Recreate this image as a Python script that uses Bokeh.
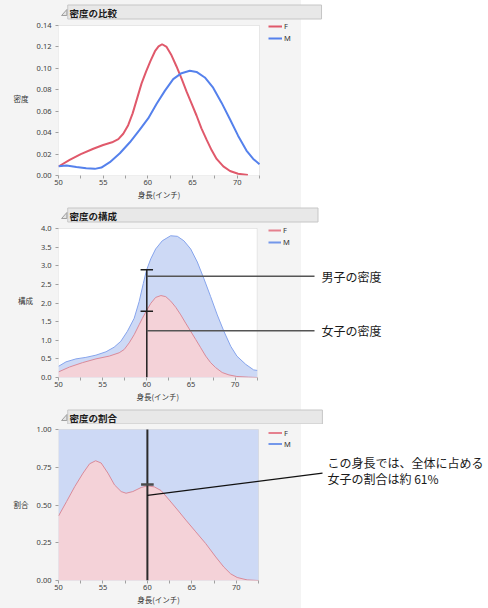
from bokeh.plotting import figure
from bokeh.models import (Range1d, FixedTicker, PrintfTickFormatter, Legend, LegendItem,
                          BoxAnnotation, Label, LinearAxis)
from bokeh.layouts import column
from bokeh.embed import file_html
from bokeh.resources import INLINE

# ---------------- data ----------------
x_ticks = [50, 55, 60, 65, 70]
x_minor = [52.5, 57.5, 62.5, 67.5, 72.5]
x_span = (50, 72.5)

# panel 1: density comparison
dens_f_x = [50, 51.25, 52.5, 53.9, 55, 56, 56.7, 57.25, 57.8, 58.3, 58.8, 59.3, 59.8,
            60.3, 60.8, 61.2, 61.6, 62.1, 62.6, 63.2, 63.8, 64.35, 64.9, 65.45, 66.0,
            66.6, 67.15, 67.7, 68.45, 69.2, 70.1, 71.2]
dens_f_y = [0.0084, 0.0145, 0.020, 0.025, 0.0285, 0.031, 0.034, 0.039, 0.047, 0.058,
            0.072, 0.086, 0.097, 0.107, 0.116, 0.1205, 0.1225, 0.120, 0.113, 0.102,
            0.090, 0.078, 0.067, 0.056, 0.044, 0.033, 0.0235, 0.0155, 0.0085, 0.0042,
            0.0017, 0.0005]
dens_m_x = [50, 50.9, 52.0, 53.1, 54.07, 54.8, 55.75, 56.87, 57.99, 59.1, 60.04, 60.97,
            61.9, 62.84, 63.77, 64.7, 65.45, 66.38, 67.31, 68.25, 69.18, 70.1, 71.04,
            71.8, 72.5]
dens_m_y = [0.0087, 0.0093, 0.0080, 0.0068, 0.0062, 0.0074, 0.0124, 0.0208, 0.031,
            0.0428, 0.0533, 0.0667, 0.079, 0.090, 0.0955, 0.0977, 0.0967, 0.0915,
            0.082, 0.068, 0.0527, 0.0372, 0.0233, 0.0155, 0.0105]
dens_y_ticks = [0.00, 0.02, 0.04, 0.06, 0.08, 0.10, 0.12, 0.14]

# panel 2: density composition
comp_f_x = [50, 51.23, 52.73, 54.24, 55.75, 56.87, 57.44, 58.0, 58.57, 59.13, 59.5,
            59.96, 60.45, 61.0, 61.6, 62.15, 62.71, 63.28, 63.85, 64.4, 64.97, 65.54,
            66.1, 66.67, 67.23, 67.8, 68.54, 69.3, 70.2, 71.5, 72.5]
comp_f_y = [0.15, 0.28, 0.40, 0.50, 0.575, 0.664, 0.752, 0.929, 1.15, 1.416, 1.59,
            1.79, 1.99, 2.15, 2.20, 2.17, 2.05, 1.885, 1.68, 1.46, 1.24, 1.02, 0.80,
            0.575, 0.398, 0.265, 0.133, 0.07, 0.027, 0.01, 0.0]
comp_tot_x = [50, 50.85, 51.98, 53.1, 54.24, 55.37, 56.3, 57.06, 57.8, 58.57, 59.13,
              59.6, 59.96, 60.45, 61.0, 61.75, 62.7, 63.46, 64.2, 64.97, 65.72, 66.47,
              67.23, 67.98, 68.73, 69.5, 70.2, 71.2, 72.1, 72.5]
comp_tot_y = [0.30, 0.42, 0.50, 0.54, 0.60, 0.69, 0.814, 0.973, 1.24, 1.59, 2.035,
              2.52, 2.876, 3.186, 3.45, 3.67, 3.805, 3.79, 3.67, 3.45, 3.10, 2.65,
              2.17, 1.68, 1.24, 0.84, 0.575, 0.354, 0.204, 0.19]
comp_y_ticks = [0.0, 0.5, 1.0, 1.5, 2.0, 2.5, 3.0, 3.5, 4.0]

# panel 3: density ratio (female share)
ratio_f_x = [50, 50.9, 51.83, 52.76, 53.5, 54.18, 54.8, 55.56, 56.3, 57.05, 57.6,
             58.36, 59.3, 60.04, 60.78, 61.53, 62.46, 63.4, 64.33, 65.45, 66.57,
             67.69, 68.6, 69.37, 70.1, 70.86, 71.23, 72.5]
ratio_f_y = [0.427, 0.522, 0.622, 0.711, 0.773, 0.793, 0.778, 0.711, 0.633, 0.589,
             0.578, 0.589, 0.616, 0.627, 0.620, 0.596, 0.533, 0.467, 0.400, 0.322,
             0.244, 0.156, 0.089, 0.044, 0.020, 0.009, 0.004, 0.0]
ratio_y_ticks = [0.00, 0.25, 0.50, 0.75, 1.00]

# cursor at height 60 and its read values
cursor_x = 60
comp_cursor_f = 1.78
comp_cursor_tot = 2.89
comp_note_m_y = 2.72
comp_note_f_y = 1.257
ratio_cursor = 0.635
ratio_note_y = 0.564

titles = ["密度の比較", "密度の構成", "密度の割合"]
y_labels = ["密度", "構成", "割合"]
x_label = "身長(インチ)"
series = ["F", "M"]
note_m = "男子の密度"
note_f = "女子の密度"
note_ratio = ["この身長では、全体に占める", "女子の割合は約 61%"]

# ---------------- style ----------------
RED = "#E0596B"
BLUE = "#5581EC"
F_FILL = "#F4D2D8"
M_FILL = "#CDD9F5"
F_EDGE = "#D98A99"
M_EDGE = "#86A4EC"
LEG_F = "#E5808E"
LEG_M = "#7397EA"
CJK = "Noto Sans CJK JP"
W = 488
BG_STYLE = {"background": "linear-gradient(to right, #F4F4F4 0px, #F4F4F4 301px, "
                          "#FFFFFF 301px, #FFFFFF 100%)"}


def bare(p):
    p.outline_line_color = None
    p.background_fill_color = None
    p.border_fill_color = None
    p.styles = BG_STYLE


def header_fig(h, bar_top, bar_right, title):
    p = figure(width=W, height=h, x_range=Range1d(0, W), y_range=Range1d(h, 0),
               min_border_left=0, min_border_right=0, min_border_top=0,
               min_border_bottom=0, x_axis_location=None, y_axis_location=None,
               output_backend="svg", toolbar_location=None, tools="")
    bare(p)
    p.grid.visible = False
    p.quad(left=[10.5], right=[bar_right + 0.5], top=[bar_top + 0.5],
           bottom=[bar_top + 14.5], fill_color="#E8E8E8", line_color="#C6C6C6",
           line_width=1)
    p.patch([3.5, 9.5, 9.5], [bar_top + 11, bar_top + 11, bar_top + 5],
            fill_color="#E4E4E4", line_color="#A0A0A0", line_width=1)
    p.add_layout(Label(x=12.5, y=bar_top + 8, text=title, text_font=CJK,
                       text_font_style="bold", text_font_size="9.5px",
                       text_baseline="middle", text_color="#1A1A1A"))
    return p


def chart_fig(fig_top, fig_h, fl, fr_chart, frame_top, chart_top, chart_bottom,
              ymax, yticks, yfmt, ylab):
    x_end = x_span[0] + (W - fl) * (x_span[1] - x_span[0]) / (fr_chart - fl)
    y_top = ymax * (chart_bottom - frame_top) / (chart_bottom - chart_top)
    p = figure(width=W, height=fig_h,
               min_border_left=fl, min_border_right=0,
               min_border_top=frame_top - fig_top,
               min_border_bottom=fig_top + fig_h - chart_bottom,
               x_range=Range1d(x_span[0], x_end), y_range=Range1d(0, y_top),
               output_backend="svg", toolbar_location=None, tools="")
    bare(p)
    p.xgrid.visible = False
    p.ygrid.visible = False
    # a second axis below carries the x title centred under the chart
    xlab_axis = LinearAxis(ticker=FixedTicker(ticks=[sum(x_span) / 2], minor_ticks=[]),
                           major_label_overrides={sum(x_span) / 2: x_label})
    p.add_layout(xlab_axis, "below")
    for ax in (p.xaxis[0], p.yaxis[0], xlab_axis):
        ax.axis_line_color = None
        ax.major_tick_line_color = "#A0A0A0"
        ax.minor_tick_line_color = "#A0A0A0"
        ax.major_tick_in = 0
        ax.major_tick_out = 3
        ax.minor_tick_in = 0
        ax.minor_tick_out = 3
        ax.major_label_text_font = "Noto Sans"
        ax.major_label_text_font_size = "7.5px"
        ax.major_label_text_color = "#404040"
        ax.axis_label_text_font = CJK
        ax.axis_label_text_font_size = "7.5px"
        ax.axis_label_text_font_style = "normal"
        ax.axis_label_text_color = "#333333"
    xlab_axis.major_tick_out = 0
    xlab_axis.major_tick_line_color = None
    xlab_axis.minor_tick_line_color = None
    xlab_axis.major_label_text_font = CJK
    xlab_axis.major_label_text_color = "#333333"
    xlab_axis.major_label_standoff = 1
    xlab_axis.bounds = x_span
    p.xaxis[0].bounds = x_span
    p.xaxis[0].ticker = FixedTicker(ticks=x_ticks, minor_ticks=x_minor)
    p.xaxis[0].major_label_standoff = 1
    p.yaxis.bounds = (0, ymax)
    p.yaxis.ticker = FixedTicker(ticks=yticks, minor_ticks=[])
    p.yaxis.formatter = PrintfTickFormatter(format=yfmt)
    p.yaxis.major_label_standoff = 4
    p.yaxis.axis_label = ylab
    p.yaxis.axis_label_orientation = "horizontal"
    p.yaxis.axis_label_standoff = 5
    # the plotting area of the chart itself
    box = BoxAnnotation(left=x_span[0], right=x_span[1], bottom=0, top=ymax,
                        fill_color="white", fill_alpha=1, line_color="#BDBDBD",
                        line_width=1, level="underlay")
    p.add_layout(box)

    def X(a):
        return x_span[0] + (a - fl) * (x_span[1] - x_span[0]) / (fr_chart - fl)

    def Y(a):
        return (chart_bottom - a) * ymax / (chart_bottom - chart_top)

    return p, box, X, Y


def add_legend(p, rf, rm, vx, vy, gw, ih):
    leg = Legend(items=[LegendItem(label=series[0], renderers=[rf]),
                        LegendItem(label=series[1], renderers=[rm])],
                 location=(vx, vy), orientation="vertical", padding=0, margin=0,
                 spacing=0, glyph_width=gw, glyph_height=ih, label_height=ih,
                 label_standoff=2, label_text_font="Noto Sans",
                 label_text_font_size="7.5px", label_text_color="#333333",
                 background_fill_alpha=0, border_line_color=None)
    p.add_layout(leg)


# ---------------- panel 1 ----------------
h1 = header_fig(20, 4, 298, titles[0])
p1, box1, X1, Y1 = chart_fig(20, 184, 58, 259, 20, 25, 175, 0.14, dens_y_ticks, "%.2f",
                             y_labels[0])
rf1 = p1.line(dens_f_x, dens_f_y, line_color=RED, line_width=2)
rm1 = p1.line(dens_m_x, dens_m_y, line_color=BLUE, line_width=2)
add_legend(p1, rf1, rm1, 268 - 58, 175 - 44, 14, 12)

# ---------------- panel 2 ----------------
h2 = header_fig(19, 3, 294, titles[1])
p2, box2, X2, Y2 = chart_fig(223, 183, 53, 254, 223, 228, 377, 4.0, comp_y_ticks, "%.1f",
                             y_labels[1])
p2.varea(x=comp_tot_x, y1=0, y2=comp_tot_y, fill_color=M_FILL, fill_alpha=1)
p2.line(comp_tot_x, comp_tot_y, line_color=M_EDGE, line_width=1)
p2.varea(x=comp_f_x, y1=0, y2=comp_f_y, fill_color=F_FILL, fill_alpha=1)
p2.line(comp_f_x, comp_f_y, line_color=F_EDGE, line_width=1)
p2.segment(x0=[cursor_x], y0=[0], x1=[cursor_x], y1=[comp_cursor_tot],
           line_color="#1E1E1E", line_width=1.5)
cap2 = X2(53 + 6.3) - x_span[0]
p2.segment(x0=[cursor_x - cap2] * 2, y0=[comp_cursor_tot, comp_cursor_f],
           x1=[cursor_x + cap2] * 2, y1=[comp_cursor_tot, comp_cursor_f],
           line_color="#1E1E1E", line_width=1.5)
# single-point proxies (draw nothing themselves) give the legend its line swatches
rf2 = p2.line([cursor_x], [0], line_color=LEG_F, line_width=2)
rm2 = p2.line([cursor_x], [0], line_color=LEG_M, line_width=2)
add_legend(p2, rf2, rm2, 263 - 53, 377 - 248, 13, 12)
for yv, txt in ((comp_note_m_y, note_m), (comp_note_f_y, note_f)):
    p2.segment(x0=[cursor_x], y0=[yv], x1=[X2(312)], y1=[yv],
               line_color="#555555", line_width=1.6)
    p2.add_layout(Label(x=X2(319), y=yv, text=txt, text_font=CJK, text_font_size="12px",
                        text_baseline="middle", text_color="#1A1A1A"))

# ---------------- panel 3 ----------------
h3 = header_fig(18, 3, 299, titles[2])
p3, box3, X3, Y3 = chart_fig(424, 184, 58, 258, 427, 429, 580, 1.0, ratio_y_ticks, "%.2f",
                             y_labels[2])
box3.fill_color = M_FILL
p3.varea(x=ratio_f_x, y1=0, y2=ratio_f_y, fill_color=F_FILL, fill_alpha=1)
p3.line(ratio_f_x, ratio_f_y, line_color=F_EDGE, line_width=1)
p3.segment(x0=[cursor_x], y0=[0], x1=[cursor_x], y1=[1.0],
           line_color="#2B2B2B", line_width=2)
cap3 = X3(58 + 6.3) - x_span[0]
p3.segment(x0=[cursor_x - cap3], y0=[ratio_cursor], x1=[cursor_x + cap3],
           y1=[ratio_cursor], line_color="#4A4A4A", line_width=2.5)
rf3 = p3.line([cursor_x], [0], line_color=LEG_F, line_width=2)
rm3 = p3.line([cursor_x], [0], line_color=LEG_M, line_width=2)
add_legend(p3, rf3, rm3, 268 - 58, 580 - 449, 14, 11)
p3.segment(x0=[cursor_x], y0=[ratio_note_y], x1=[X3(322)], y1=[Y3(472.7)],
           line_color="#111111", line_width=1.3)
p3.add_layout(Label(x=X3(327), y=Y3(462), text=note_ratio[0], text_font=CJK,
                    text_font_size="12px", text_baseline="middle", text_color="#1A1A1A"))
p3.add_layout(Label(x=X3(327), y=Y3(478), text=note_ratio[1], text_font=CJK,
                    text_font_size="12px", text_baseline="middle", text_color="#1A1A1A"))

layout = column(h1, p1, h2, p2, h3, p3, spacing=0)
open("out.html", "w").write(file_html(layout, INLINE))
